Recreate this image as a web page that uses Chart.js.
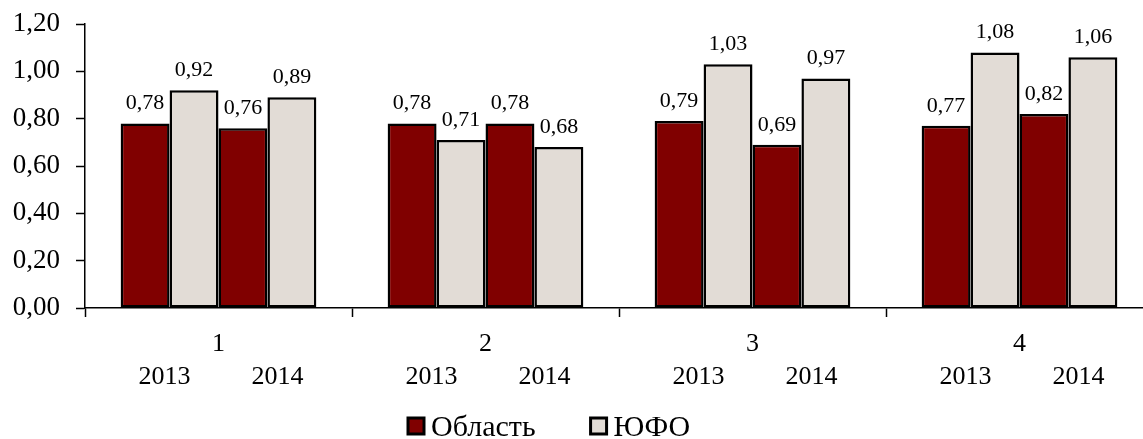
<!DOCTYPE html>
<html>
<head>
<meta charset="utf-8">
<script src="https://cdn.jsdelivr.net/npm/chart.js@4.4.0/dist/chart.umd.min.js"></script>
<style>
  html, body { margin: 0; padding: 0; overflow: hidden; background: #fff; }
  #wrap { width: 1160px; height: 439px; position: relative; }
</style>
</head>
<body>
<div id="wrap"><canvas id="chart"></canvas></div>
<script>
// groups on the x axis, years inside each group
const groups = ['1', '2', '3', '4'];
const years = ['2013', '2014'];
const seriesNames = ['Область', 'ЮФО'];

// values per group
const oblast2013 = [0.78, 0.78, 0.79, 0.77];
const yufo2013   = [0.92, 0.71, 1.03, 1.08];
const oblast2014 = [0.76, 0.78, 0.69, 0.82];
const yufo2014   = [0.89, 0.68, 0.97, 1.06];

const colors = ['#800000', '#E2DCD6'];
const FONT = "'Liberation Serif', 'Times New Roman', serif";

const fmt = v => v.toFixed(2).replace('.', ',');

const extras = {
  id: 'extras',
  afterDatasetsDraw(chart) {
    const ctx = chart.ctx;
    ctx.save();
    ctx.fillStyle = '#000';
    ctx.textAlign = 'center';

    // value labels over bars
    ctx.font = '22px ' + FONT;
    ctx.textBaseline = 'alphabetic';
    chart.data.datasets.forEach((ds, di) => {
      const meta = chart.getDatasetMeta(di);
      meta.data.forEach((bar, i) => {
        ctx.fillText(fmt(ds.data[i]), bar.x, bar.y - 14);
      });
    });

    // year labels under each pair of bars
    ctx.font = '26px ' + FONT;
    ctx.textBaseline = 'middle';
    const yearShift = [-5, 10];
    groups.forEach((g, i) => {
      years.forEach((yr, k) => {
        const a = chart.getDatasetMeta(k * 2).data[i].x;
        const b = chart.getDatasetMeta(k * 2 + 1).data[i].x;
        ctx.fillText(yr, (a + b) / 2 + yearShift[k], chart.chartArea.bottom + 69);
      });
    });

    // legend
    ctx.font = '30px ' + FONT;
    ctx.textAlign = 'left';
    ctx.textBaseline = 'alphabetic';
    let x = 408;
    const y = 426;
    seriesNames.forEach((name, i) => {
      ctx.fillStyle = colors[i];
      ctx.fillRect(x, y - 8, 16, 16);
      ctx.lineWidth = 3;
      ctx.strokeStyle = '#000';
      ctx.strokeRect(x, y - 8, 16, 16);
      ctx.fillStyle = '#000';
      ctx.fillText(name, x + 23, y + 10);
      x += 23 + ctx.measureText(name).width + 55;
    });
    ctx.restore();
  }
};

new Chart(document.getElementById('chart'), {
  type: 'bar',
  data: {
    labels: groups,
    datasets: [
      { label: seriesNames[0] + ' ' + years[0], data: oblast2013, backgroundColor: colors[0] },
      { label: seriesNames[1] + ' ' + years[0], data: yufo2013,   backgroundColor: colors[1] },
      { label: seriesNames[0] + ' ' + years[1], data: oblast2014, backgroundColor: colors[0] },
      { label: seriesNames[1] + ' ' + years[1], data: yufo2014,   backgroundColor: colors[1] }
    ]
  },
  options: {
    responsive: true,
    maintainAspectRatio: false,
    animation: false,
    layout: { padding: { top: 24, right: 7, left: 0, bottom: 0 } },
    datasets: {
      bar: {
        categoryPercentage: 0.733,
        barPercentage: 1,
        borderColor: '#000',
        borderWidth: 2.5,
        borderSkipped: false
      }
    },
    plugins: {
      legend: { display: false },
      tooltip: { enabled: false }
    },
    scales: {
      x: {
        offset: true,
        grid: { offset: true, drawOnChartArea: false, tickLength: 9, color: '#000', tickWidth: 1.5 },
        border: { color: '#000', width: 1.5 },
        ticks: { color: '#000', padding: 12, font: { family: FONT, size: 26 } },
        afterFit(scale) { scale.height = 131; }
      },
      y: {
        min: 0,
        max: 1.2,
        grid: { drawOnChartArea: false, tickLength: 9, color: '#000', tickWidth: 1.5 },
        border: { color: '#000', width: 1.5 },
        ticks: {
          stepSize: 0.2,
          color: '#000',
          padding: 16,
          font: { family: FONT, size: 27 },
          callback: v => fmt(v)
        },
        afterFit(scale) {
          scale.width = 85;
          scale.paddingTop = 0;
          scale.paddingBottom = 0;
        }
      }
    }
  },
  plugins: [extras]
});
</script>
</body>
</html>
